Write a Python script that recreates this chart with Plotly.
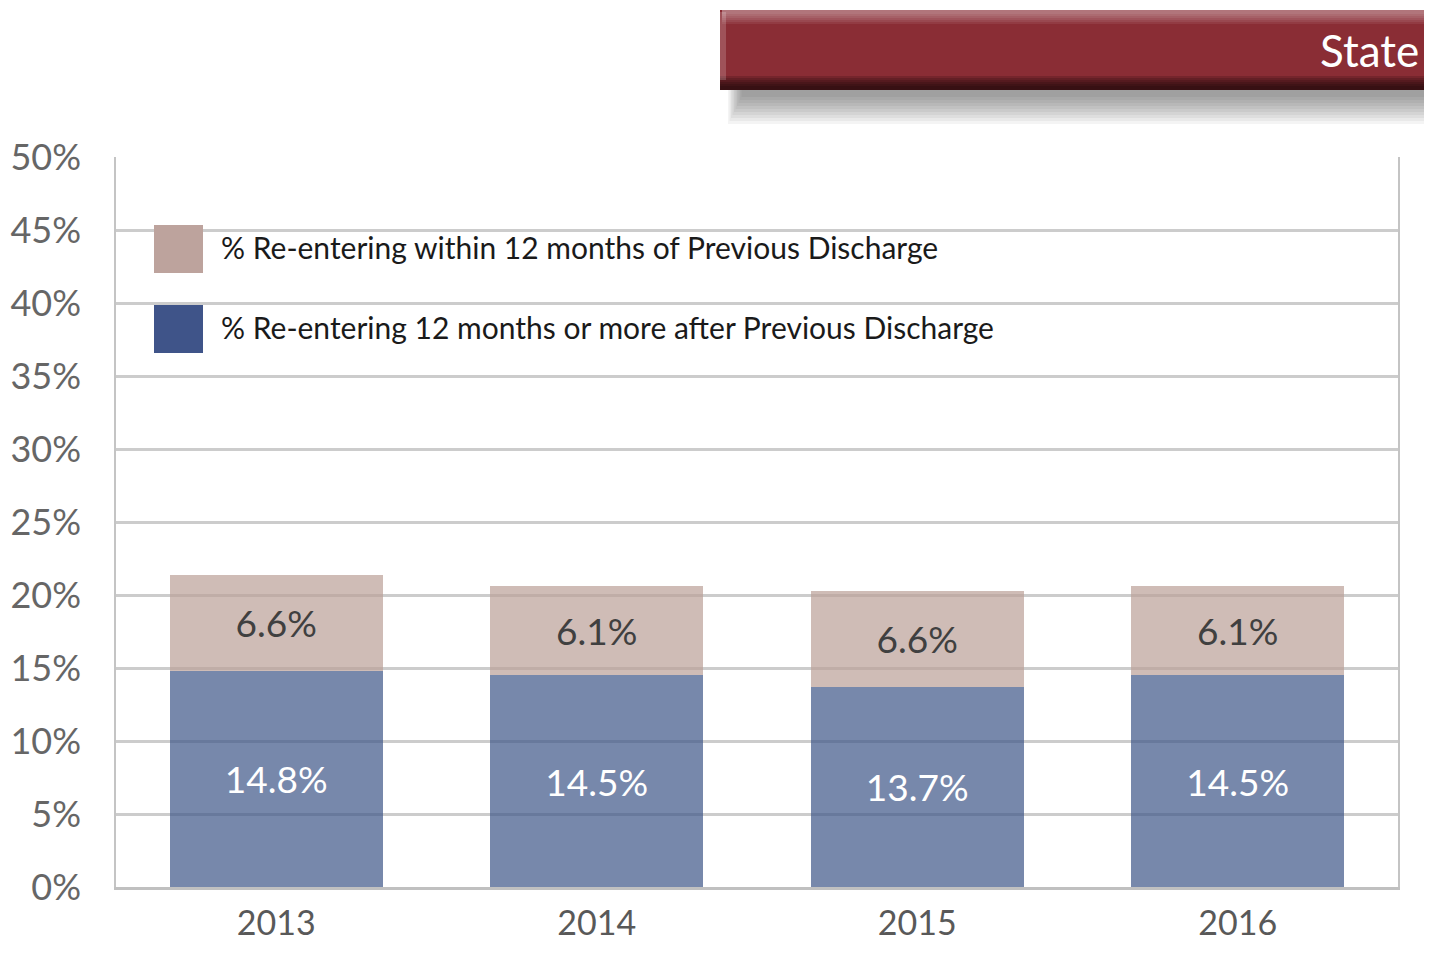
"""
Re-entry rates by year, stacked bars. State banner on top right.
"""
import plotly.graph_objects as go

years = ["2013", "2014", "2015", "2016"]
more_12 = [14.8, 14.5, 13.7, 14.5]
within_12 = [6.6, 6.1, 6.6, 6.1]
name_within = "% Re-entering within 12 months of Previous Discharge"
name_more = "% Re-entering 12 months or more after Previous Discharge"
banner_title = "State"

FONT = "Lato"
BLUE = "#3d5588"
TAN = "#ba9f97"

# page has an 8px body margin, so the figure is made smaller to fit the window
OFF = 8
W, H = 1432 - 2 * OFF, 955 - 2 * OFF
# plot area in window pixels
L, R, T, B = 116, 1398, 157, 887


def px(x):
    return (x - L) / (R - L)


def py(y):
    return (B - y) / (B - T)


fig = go.Figure()
fig.add_trace(go.Bar(
    x=years, y=more_12, name=name_more,
    marker=dict(color=BLUE, opacity=0.7, line=dict(width=0)),
    texttemplate="%{y:.1f}%", textposition="inside", insidetextanchor="middle",
    textfont=dict(family=FONT, size=37, color="white"),
))
fig.add_trace(go.Bar(
    x=years, y=within_12, name=name_within,
    marker=dict(color=TAN, opacity=0.7, line=dict(width=0)),
    texttemplate="%{y:.1f}%", textposition="inside", insidetextanchor="middle",
    textfont=dict(family=FONT, size=37, color="#404040"),
))

shapes = []
annotations = []

# legend drawn by hand: big square swatches
for i, (name, col) in enumerate([(name_within, "#bda39d"), (name_more, "#3f5489")]):
    top = 225 + i * 80
    shapes.append(dict(type="rect", xref="paper", yref="paper",
                       x0=px(154), x1=px(203), y0=py(top + 48), y1=py(top),
                       fillcolor=col, line=dict(width=0)))
    annotations.append(dict(text=name, xref="paper", yref="paper",
                            x=px(219), y=py(top + 22), xanchor="left", yanchor="middle",
                            showarrow=False, font=dict(family=FONT, size=30, color="#1a1a1a")))

# banner shadow, soft layers
for k in range(10):
    shapes.append(dict(type="rect", xref="paper", yref="paper",
                       x0=px(728 + k * 1.5), x1=px(1430), y0=py(124 - k * 3), y1=py(60),
                       fillcolor="rgba(0,0,0,0.045)", line=dict(width=0), layer="above"))
# banner body
shapes.append(dict(type="rect", xref="paper", yref="paper",
                   x0=px(720), x1=px(1424), y0=py(90), y1=py(10),
                   fillcolor="#8a2d35", line=dict(width=0), layer="above"))
# top highlight
for k in range(6):
    shapes.append(dict(type="rect", xref="paper", yref="paper",
                       x0=px(722), x1=px(1424), y0=py(24 - k * 2), y1=py(10),
                       fillcolor="rgba(255,255,255,0.07)", line=dict(width=0), layer="above"))
# bottom dark edge
for k in range(6):
    shapes.append(dict(type="rect", xref="paper", yref="paper",
                       x0=px(720), x1=px(1424), y0=py(90), y1=py(76 + k * 2),
                       fillcolor="rgba(20,5,6,0.18)", line=dict(width=0), layer="above"))
# left light edge
shapes.append(dict(type="rect", xref="paper", yref="paper",
                   x0=px(720), x1=px(726), y0=py(80), y1=py(12),
                   fillcolor="rgba(255,255,255,0.18)", line=dict(width=0), layer="above"))
annotations.append(dict(text=banner_title, xref="paper", yref="paper",
                        x=px(1421), y=py(50), xanchor="right", yanchor="middle",
                        showarrow=False, font=dict(family=FONT, size=44, color="white")))

fig.update_layout(
    width=W, height=H,
    margin=dict(l=L - OFF, r=1432 - OFF - R, t=T - OFF, b=955 - OFF - B),
    paper_bgcolor="white", plot_bgcolor="white",
    barmode="stack", bargap=0.335,
    showlegend=False,
    shapes=shapes, annotations=annotations,
    xaxis=dict(
        automargin=False,
        showgrid=False, showline=True, linecolor="#c0c0c0", linewidth=3, mirror=False,
        ticks="", ticklabelstandoff=4,
        tickfont=dict(family=FONT, size=34, color="#595959"),
    ),
    yaxis=dict(
        automargin=False,
        range=[0, 50], dtick=5, ticksuffix="%",
        showgrid=True, gridcolor="#cccccc", gridwidth=2.5,
        showline=True, linecolor="#c4c4c4", linewidth=1.5, mirror=True,
        zeroline=False, ticks="", ticklabelstandoff=26,
        tickfont=dict(family=FONT, size=36, color="#666666"),
    ),
)

fig.write_html("out.html")
